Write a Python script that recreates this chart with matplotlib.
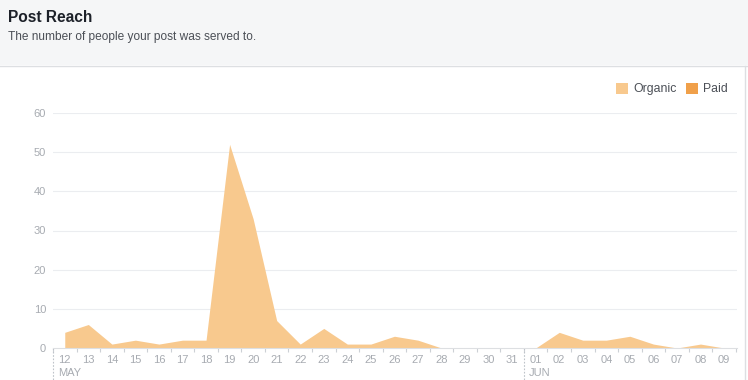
import numpy as np
import matplotlib.pyplot as plt
from matplotlib.patches import Patch, Rectangle
from matplotlib.lines import Line2D

plt.rcParams['font.family'] = ['Liberation Sans', 'DejaVu Sans']

days = ['12', '13', '14', '15', '16', '17', '18', '19', '20', '21', '22', '23', '24', '25', '26',
        '27', '28', '29', '30', '31', '01', '02', '03', '04', '05', '06', '07', '08', '09']
organic = [4, 6, 1, 2, 1, 2, 2, 52, 33, 7, 1, 5, 1, 1, 3,
           2, 0, 0, 0, 0, 0, 4, 2, 2, 3, 1, 0, 1, 0]
paid = [0] * len(days)
months = ['MAY', 'JUN']
month_start = [0, 20]
yticks = [0, 10, 20, 30, 40, 50, 60]

c_org = '#f8c98e'
c_paid = '#f0a04a'
grid_c = '#ebedf0'
lab_c = '#a7abb1'

fig = plt.figure(figsize=(7.48, 3.8), dpi=100)
W, H = 748, 380

# header band
fig.patches.append(Rectangle((0, 1 - 65 / H), 1, 65 / H, transform=fig.transFigure,
                             facecolor='#f5f6f7', edgecolor='none', zorder=0))
fig.lines.append(Line2D([0, 1], [1 - 65.5 / H] * 2, transform=fig.transFigure, color='#dddfe2', lw=1))
fig.lines.append(Line2D([744.5 / W] * 2, [0, 1 - 65.5 / H], transform=fig.transFigure, color='#dddfe2', lw=1))
fig.text(8 / W, 1 - 18 / H, 'Post Reach', fontsize=11.2, fontweight='bold', color='#1d2129',
         va='center', ha='left')
fig.text(8 / W, 1 - 37 / H, 'The number of people your post was served to.', fontsize=8.6,
         color='#4b4f56', va='center', ha='left')

ax = fig.add_axes([53 / W, 1 - 348 / H, (737 - 53) / W, (348 - 113) / H])
x = np.arange(len(days))
ax.fill_between(x, 0, np.array(organic) + np.array(paid), color=c_org, lw=0, zorder=2)
ax.fill_between(x, 0, paid, color=c_paid, lw=0, zorder=3)

ax.set_xlim(-0.5, 28.55)
ax.set_ylim(0, 60)
ax.set_yticks(yticks)
ax.set_yticklabels([str(v) for v in yticks])
for v in yticks[1:]:
    ax.axhline(v, color=grid_c, lw=0.8, zorder=1)

ax.set_xticks(x)
ax.set_xticklabels(days)
ax.set_xticks(np.arange(len(days) + 1) - 0.5, minor=True)
ax.tick_params(axis='x', which='major', length=0, pad=5, labelsize=8, labelcolor=lab_c)
ax.tick_params(axis='x', which='minor', length=3, width=0.8, color='#ccd0d5', direction='out')
ax.tick_params(axis='y', length=0, pad=5, labelsize=8, labelcolor=lab_c)
for s in ['top', 'right', 'left']:
    ax.spines[s].set_visible(False)
ax.spines['bottom'].set_color('#dddfe2')
ax.spines['bottom'].set_linewidth(0.8)

for m, s in zip(months, month_start):
    ax.plot([s - 0.5, s - 0.5], [0, -0.135], transform=ax.get_xaxis_transform(), clip_on=False,
            color='#bec3c9', lw=0.8, ls=(0, (1.5, 1.5)))
    ax.text(s - 0.3, -0.105, m, transform=ax.get_xaxis_transform(), fontsize=8, color=lab_c,
            ha='left', va='center')

handles = [Patch(facecolor=c_org, edgecolor='none', label='Organic'),
           Patch(facecolor=c_paid, edgecolor='none', label='Paid')]
fig.legend(handles=handles, loc='center right', bbox_to_anchor=(728 / W, 1 - 89 / H), ncol=2,
           frameon=False, fontsize=8.8, handlelength=1.0, handleheight=1.0, handletextpad=0.4,
           columnspacing=0.8, labelcolor='#4b4f56', borderpad=0, borderaxespad=0)

fig.savefig('out.png', dpi=100)
